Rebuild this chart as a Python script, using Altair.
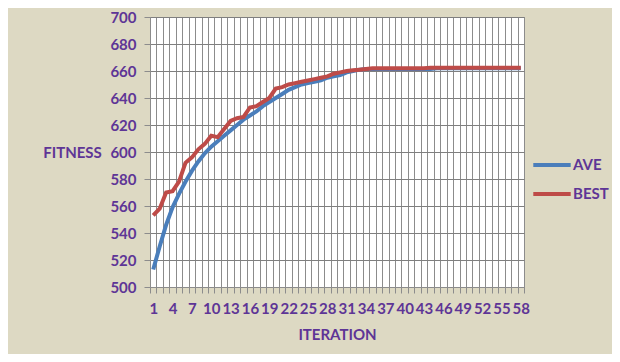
import altair as alt
import pandas as pd

iterations = list(range(1, 59))
ave = [513, 530, 546, 559, 569, 578, 586, 593, 599, 604,
       608, 612, 616, 620, 624, 627, 630, 634, 637, 640,
       643, 646, 648, 650, 651, 652, 653, 655, 656, 657,
       659, 660, 661, 661.5, 661.5, 661.5, 661.5, 661.5, 661.5, 661.5,
       661.5, 661.5, 661.5, 661.5, 662, 662, 662, 662, 662, 662,
       662, 662, 662, 662, 662, 662, 662, 662]
best = [553, 558, 570, 571, 578, 592, 596, 602, 606, 612,
        611, 617, 623, 625, 626, 633, 634, 637, 640, 647,
        648, 650, 651, 652, 653, 654, 655, 656, 658, 659,
        660, 660.5, 661, 661.5, 662, 662, 662, 662, 662, 662,
        662, 662, 662, 662.5, 662.5, 662.5, 662.5, 662.5, 662.5, 662.5,
        662.5, 662.5, 662.5, 662.5, 662.5, 662.5, 662.5, 662.5]
series_names = ["AVE", "BEST"]
series_colors = ["#4A7EBB", "#BE4B48"]
y_ticks = list(range(500, 701, 20))
x_labels = list(range(1, 59, 3))

rows = []
for name, vals in zip(series_names, [ave, best]):
    for i, v in zip(iterations, vals):
        rows.append({"iteration": i, "fitness": v, "series": name})
df = pd.DataFrame(rows)

boundaries = [i - 0.5 for i in iterations] + [iterations[-1] + 0.5]
x_values = sorted(boundaries + x_labels)

purple = "#5E3596"
font = "Lato"

chart = alt.Chart(df).mark_line(strokeWidth=4).encode(
    x=alt.X(
        "iteration:Q",
        title="ITERATION",
        scale=alt.Scale(domain=[boundaries[0], boundaries[-1]], nice=False, zero=False),
        axis=alt.Axis(
            values=x_values,
            labelExpr="datum.value % 1 == 0 ? datum.label : ''",
            labelOverlap=False,
            labelFlush=False,
            grid=True,
            gridOpacity=alt.condition("datum.value % 1 != 0", alt.value(1), alt.value(0)),
            tickOpacity=alt.condition("datum.value % 1 != 0", alt.value(1), alt.value(0)),
            gridColor="#8C8C8C",
            tickColor="#8C8C8C",
            domainColor="#8C8C8C",
            tickSize=6,
            labelPadding=8,
            labelFont=font,
            labelFontWeight="bold",
            labelFontSize=15,
            labelColor=purple,
            titleFont=font,
            titleFontWeight="bold",
            titleFontSize=15,
            titleColor=purple,
            titlePadding=11,
        ),
    ),
    y=alt.Y(
        "fitness:Q",
        title="FITNESS",
        scale=alt.Scale(domain=[500, 700], nice=False, zero=False),
        axis=alt.Axis(
            values=y_ticks,
            grid=True,
            gridColor="#7F7F7F",
            tickColor="#8C8C8C",
            domainColor="#8C8C8C",
            tickSize=6,
            labelPadding=8,
            labelFont=font,
            labelFontWeight="bold",
            labelFontSize=15,
            labelColor=purple,
            titleFont=font,
            titleFontWeight="bold",
            titleFontSize=15,
            titleColor=purple,
            titleAngle=0,
            titleAlign="center",
            titleBaseline="middle",
            titleX=-78,
            titleY=135,
        ),
    ),
    color=alt.Color(
        "series:N",
        scale=alt.Scale(domain=series_names, range=series_colors),
        legend=alt.Legend(
            title=None,
            orient="none",
            legendX=381,
            legendY=127,
            symbolType="stroke",
            symbolSize=1400,
            symbolStrokeWidth=4,
            rowPadding=-9,
            labelFont=font,
            labelFontWeight="bold",
            labelFontSize=15,
            labelColor=purple,
            labelOffset=0,
        ),
    ),
).properties(
    width=374,
    height=270,
    background="#DDD9C3",
    padding={"left": 142, "top": 9, "right": 88, "bottom": 67},
    autosize=alt.AutoSizeParams(type="none"),
).configure_view(
    fill="white",
    stroke="#8C8C8C",
)

chart.save("out.html", embed_options={"renderer": "svg", "actions": False})
